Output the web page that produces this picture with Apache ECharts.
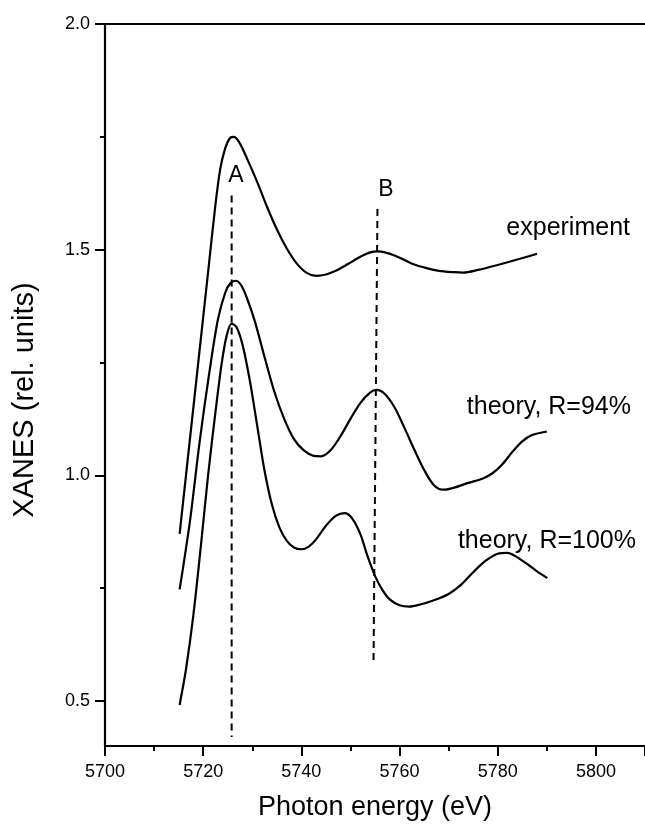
<!DOCTYPE html>
<html>
<head>
<meta charset="utf-8">
<script src="https://cdn.jsdelivr.net/npm/echarts@6/dist/echarts.min.js"></script>
<style>
  html, body { margin: 0; padding: 0; background: #fff; }
  #chart { width: 645px; height: 827px; }
</style>
</head>
<body>
<div id="chart"></div>
<script>
// Photon energy (eV) and XANES intensity, one pair of arrays per spectrum
const expEnergy = [5715.2, 5717, 5719, 5721, 5722.5, 5723.5, 5724.5, 5725.5, 5726.3, 5727.5, 5729, 5731, 5733, 5735, 5737, 5739, 5741, 5743, 5745, 5747, 5749.5, 5752, 5754, 5755.5, 5757, 5759, 5761, 5763, 5765.5, 5768, 5771, 5773, 5776, 5780, 5784, 5788];
const expValue  = [0.87, 1.05, 1.25, 1.45, 1.60, 1.68, 1.725, 1.748, 1.75, 1.735, 1.70, 1.65, 1.595, 1.545, 1.503, 1.47, 1.449, 1.442, 1.445, 1.453, 1.468, 1.484, 1.494, 1.496, 1.494, 1.487, 1.477, 1.467, 1.459, 1.453, 1.450, 1.449, 1.455, 1.466, 1.478, 1.491];

const th94Energy = [5715.2, 5717.3, 5719.3, 5721.3, 5723, 5724.5, 5725.5, 5726.6, 5727.8, 5729, 5730.5, 5732.5, 5734.5, 5736.5, 5738.5, 5740.5, 5742.5, 5744, 5746, 5748, 5750, 5752, 5754, 5755.3, 5757, 5759, 5761, 5763, 5765, 5767, 5769, 5771, 5774, 5777, 5779, 5781, 5783, 5785, 5787, 5790];
const th94Value  = [0.747, 0.898, 1.076, 1.231, 1.345, 1.405, 1.425, 1.431, 1.42, 1.39, 1.342, 1.262, 1.185, 1.125, 1.08, 1.055, 1.043, 1.042, 1.056, 1.087, 1.125, 1.16, 1.183, 1.189, 1.18, 1.15, 1.105, 1.057, 1.012, 0.978, 0.968, 0.972, 0.983, 0.993, 1.005, 1.025, 1.052, 1.075, 1.089, 1.097];

const th100Energy = [5715.2, 5716.5, 5718, 5719.5, 5721, 5722.5, 5723.8, 5724.8, 5725.8, 5726.8, 5728, 5729.5, 5731, 5732.5, 5734, 5735.5, 5737, 5738.5, 5740, 5741.5, 5743, 5745, 5747, 5748.8, 5750.3, 5752, 5753.5, 5755, 5756.5, 5758, 5760, 5762, 5764, 5767, 5770, 5772.5, 5775, 5777.5, 5780, 5782, 5784, 5786.4, 5788, 5790.1];
const th100Value  = [0.491, 0.57, 0.69, 0.84, 1.00, 1.14, 1.25, 1.31, 1.336, 1.328, 1.29, 1.21, 1.11, 1.01, 0.935, 0.885, 0.855, 0.84, 0.836, 0.842, 0.858, 0.888, 0.91, 0.916, 0.905, 0.87, 0.82, 0.777, 0.746, 0.725, 0.712, 0.709, 0.713, 0.723, 0.737, 0.757, 0.785, 0.81, 0.826, 0.828, 0.818, 0.80, 0.787, 0.772];

// Peak markers A and B: [energy at top, energy at bottom] and [top, bottom] values
const markAEnergy = [5725.8, 5725.8];
const markAValue  = [1.62, 0.42];
const markBEnergy = [5755.5, 5754.7];
const markBValue  = [1.59, 0.59];

// Axis ticks
const yMajorTicks = [0.5, 1.0, 1.5, 2.0];
const yMinorTicks = [0.75, 1.25, 1.75];

const zip = (xs, ys) => xs.map((x, i) => [x, ys[i]]);

const FONT = '"Liberation Sans", Arial, Helvetica, sans-serif';
const INK = '#000';

const curve = (name, xs, ys) => ({
  name, type: 'line', data: zip(xs, ys),
  smooth: 0.3, showSymbol: false, symbol: 'none',
  lineStyle: { color: INK, width: 2.2 },
  xAxisIndex: 0, yAxisIndex: 0, silent: true, z: 3
});
const marker = (name, xs, ys) => ({
  name, type: 'line', data: zip(xs, ys),
  showSymbol: false, symbol: 'none',
  lineStyle: { color: INK, width: 2, type: [7, 5] },
  xAxisIndex: 0, yAxisIndex: 0, silent: true, z: 2
});

const chart = echarts.init(document.getElementById('chart'), null, { renderer: 'canvas' });
chart.setOption({
  backgroundColor: '#fff',
  animation: false,
  textStyle: { fontFamily: FONT, color: INK },
  grid: { left: 105, top: 24, right: -1, bottom: 81, containLabel: false },
  xAxis: [
    {
      type: 'value', position: 'bottom', min: 5700, max: 5810, interval: 20,
      name: 'Photon energy (eV)', nameLocation: 'middle', nameGap: 48,
      nameTextStyle: { fontFamily: FONT, fontSize: 27, color: INK },
      axisLine: { show: true, onZero: false, lineStyle: { color: INK, width: 2.2 } },
      axisTick: { show: true, inside: false, length: 10, lineStyle: { color: INK, width: 2 } },
      minorTick: { show: true, splitNumber: 2, length: 5, lineStyle: { color: INK, width: 2 } },
      axisLabel: { fontFamily: FONT, fontSize: 18, color: INK, margin: 17, showMaxLabel: false, formatter: v => String(v) },
      splitLine: { show: false }, minorSplitLine: { show: false }
    },
    {
      type: 'value', position: 'top', min: 5700, max: 5810,
      axisLine: { show: true, onZero: false, lineStyle: { color: INK, width: 2.2 } },
      axisTick: { show: false }, axisLabel: { show: false }, splitLine: { show: false }
    }
  ],
  yAxis: [
    {
      type: 'value', position: 'left', min: 0.4, max: 2.0,
      axisLine: { show: true, onZero: false, lineStyle: { color: INK, width: 2.2 } },
      axisTick: { show: true, inside: false, length: 10, customValues: yMajorTicks, lineStyle: { color: INK, width: 2 } },
      axisLabel: {
        fontFamily: FONT, fontSize: 18, color: INK, margin: 15,
        customValues: yMajorTicks, formatter: v => Number(v).toFixed(1)
      },
      splitLine: { show: false }
    },
    {
      type: 'value', position: 'left', min: 0.4, max: 2.0,
      axisLine: { show: false },
      axisTick: { show: true, inside: false, length: 5, customValues: yMinorTicks, lineStyle: { color: INK, width: 2 } },
      axisLabel: { show: false }, splitLine: { show: false }
    }
  ],
  series: [
    marker('A', markAEnergy, markAValue),
    marker('B', markBEnergy, markBValue),
    curve('experiment', expEnergy, expValue),
    curve('theory, R=94%', th94Energy, th94Value),
    curve('theory, R=100%', th100Energy, th100Value)
  ],
  graphic: [
    { type: 'text', x: 25, y: 400, rotation: Math.PI / 2, z: 10, style: { text: 'XANES (rel. units)', font: '29px ' + FONT, fill: INK, align: 'center', verticalAlign: 'middle' } },
    { type: 'text', x: 236, y: 176, z: 10, style: { text: 'A', font: '23px ' + FONT, fill: INK, align: 'center', verticalAlign: 'middle' } },
    { type: 'text', x: 386, y: 190, z: 10, style: { text: 'B', font: '23px ' + FONT, fill: INK, align: 'center', verticalAlign: 'middle' } },
    { type: 'text', x: 630, y: 228, z: 10, style: { text: 'experiment', font: '25px ' + FONT, fill: INK, align: 'right', verticalAlign: 'middle' } },
    { type: 'text', x: 631, y: 407, z: 10, style: { text: 'theory, R=94%', font: '25px ' + FONT, fill: INK, align: 'right', verticalAlign: 'middle' } },
    { type: 'text', x: 636, y: 541, z: 10, style: { text: 'theory, R=100%', font: '25px ' + FONT, fill: INK, align: 'right', verticalAlign: 'middle' } }
  ]
});
</script>
</body>
</html>
